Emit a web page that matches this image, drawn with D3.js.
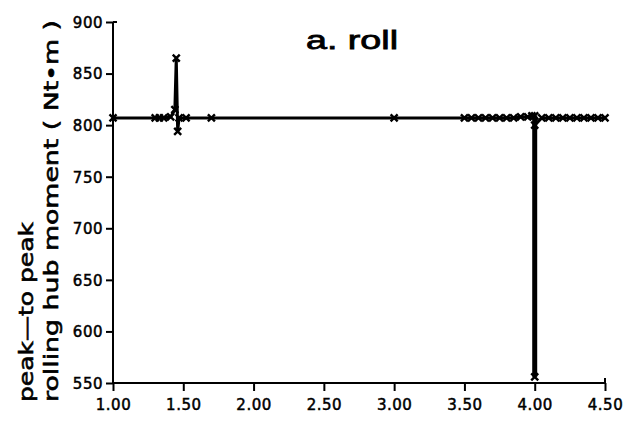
<!DOCTYPE html>
<html>
<head>
<meta charset="utf-8">
<script src="https://cdn.jsdelivr.net/npm/d3@7"></script>
<style>
  html, body { margin: 0; padding: 0; background: #fff; }
  svg { display: block; }
  text { font-family: "DejaVu Sans", sans-serif; fill: #000; }
</style>
</head>
<body>
<svg id="chart" width="628" height="427"></svg>
<script>
// ---- data ----
const title = "a. roll";
const yLabelLine1 = "peak\u2014to peak";
const yLabelLine2 = "rolling hub moment ( Nt\u2022m )";
const xTicks = [1.00, 1.50, 2.00, 2.50, 3.00, 3.50, 4.00, 4.50];
const xTickLabels = ["1.00", "1.50", "2.00", "2.50", "3.00", "3.50", "4.00", "4.50"];
const yTicks = [550, 600, 650, 700, 750, 800, 850, 900];
const yTickLabels = ["550", "600", "650", "700", "750", "800", "850", "900"];
const xValues = [1.00, 1.30, 1.33, 1.36, 1.41, 1.44, 1.45, 1.46, 1.47, 1.52, 1.70, 3.00,
  3.50, 3.55, 3.60, 3.65, 3.70, 3.75, 3.80, 3.85, 3.90, 3.95, 3.98, 4.00, 4.00, 4.00,
  4.05, 4.10, 4.15, 4.20, 4.25, 4.30, 4.35, 4.40, 4.45, 4.50];
const yValues = [807, 807, 807, 807, 808, 815, 865, 794, 807, 807, 807, 807,
  807, 807, 807, 807, 807, 807, 807, 807, 808, 808, 809, 809, 556, 800,
  807, 807, 807, 807, 807, 807, 807, 807, 807, 807];

// ---- layout ----
const svg = d3.select("#chart");
const margin = { left: 113, right: 23, top: 22, bottom: 44 };
const W = 628, H = 427;
const x = d3.scaleLinear().domain([1.0, 4.5]).range([margin.left, W - margin.right]);
const y = d3.scaleLinear().domain([550, 900]).range([H - margin.bottom, margin.top]);

const pts = xValues.map((v, i) => [v, yValues[i]]);

// axes
const xAxis = d3.axisBottom(x).tickValues(xTicks)
  .tickFormat((d, i) => xTickLabels[i]).tickSize(8).tickPadding(8);
const yAxis = d3.axisLeft(y).tickValues(yTicks)
  .tickFormat((d, i) => yTickLabels[i]).tickSize(7).tickPadding(3);

const gx = svg.append("g").attr("transform", `translate(0,${y(550)})`).call(xAxis);
const gy = svg.append("g").attr("transform", `translate(${x(1.0)},0)`).call(yAxis);
[gx, gy].forEach(g => {
  g.select(".domain").attr("stroke", "#000").attr("stroke-width", 2);
  g.selectAll(".tick line").attr("stroke", "#000").attr("stroke-width", 2);
  g.selectAll(".tick text").attr("font-size", 15).attr("font-family", "DejaVu Sans, sans-serif")
    .attr("stroke", "#000").attr("stroke-width", 0.5).style("letter-spacing", "0.5px");
});
gx.select(".domain").attr("d", `M${x(1.0)},0H${x(4.5)}`);
gy.select(".domain").attr("d", `M0,${y(550)}V${y(900)}`);
gy.selectAll(".tick text").attr("dy", "0.36em");

// small hook at top of y axis and upward tick at right end of x axis
svg.append("line").attr("x1", x(1.0)).attr("x2", x(1.0) + 4)
  .attr("y1", y(900)).attr("y2", y(900)).attr("stroke", "#000").attr("stroke-width", 2);
svg.append("line").attr("x1", x(4.5)).attr("x2", x(4.5))
  .attr("y1", y(550)).attr("y2", y(550) - 5).attr("stroke", "#000").attr("stroke-width", 2);

// data line
const line = d3.line().x(d => x(d[0])).y(d => y(d[1]));
svg.append("path").datum(pts).attr("d", line)
  .attr("fill", "none").attr("stroke", "#000").attr("stroke-width", 3)
  .attr("stroke-linejoin", "round");
// extra thick vertical drop at 4.00
svg.append("path").datum(pts.filter(d => d[0] === 4.00)).attr("d", line)
  .attr("fill", "none").attr("stroke", "#000").attr("stroke-width", 5);

// x markers
const ms = 3.5;
svg.append("g").selectAll("path").data(pts).join("path")
  .attr("d", d => {
    const cx = x(d[0]), cy = y(d[1]);
    return `M${cx - ms},${cy - ms}L${cx + ms},${cy + ms}M${cx - ms},${cy + ms}L${cx + ms},${cy - ms}`;
  })
  .attr("stroke", "#000").attr("stroke-width", 2.4).attr("fill", "none");

// title
svg.append("text").attr("x", 306).attr("y", 49)
  .attr("font-size", 26).attr("textLength", 92).attr("lengthAdjust", "spacingAndGlyphs")
  .attr("stroke", "#000").attr("stroke-width", 0.8)
  .style("font-family", "Liberation Sans, Arial, sans-serif")
  .text(title);

// y-axis titles (rotated)
svg.append("text").attr("transform", "translate(33,402) rotate(-90)")
  .attr("font-size", 20).attr("textLength", 180).attr("lengthAdjust", "spacingAndGlyphs")
  .attr("stroke", "#000").attr("stroke-width", 0.6)
  .text(yLabelLine1);
svg.append("text").attr("transform", "translate(58,402) rotate(-90)")
  .attr("font-size", 20).attr("textLength", 382).attr("lengthAdjust", "spacingAndGlyphs")
  .attr("stroke", "#000").attr("stroke-width", 0.6)
  .text(yLabelLine2);
</script>
</body>
</html>
